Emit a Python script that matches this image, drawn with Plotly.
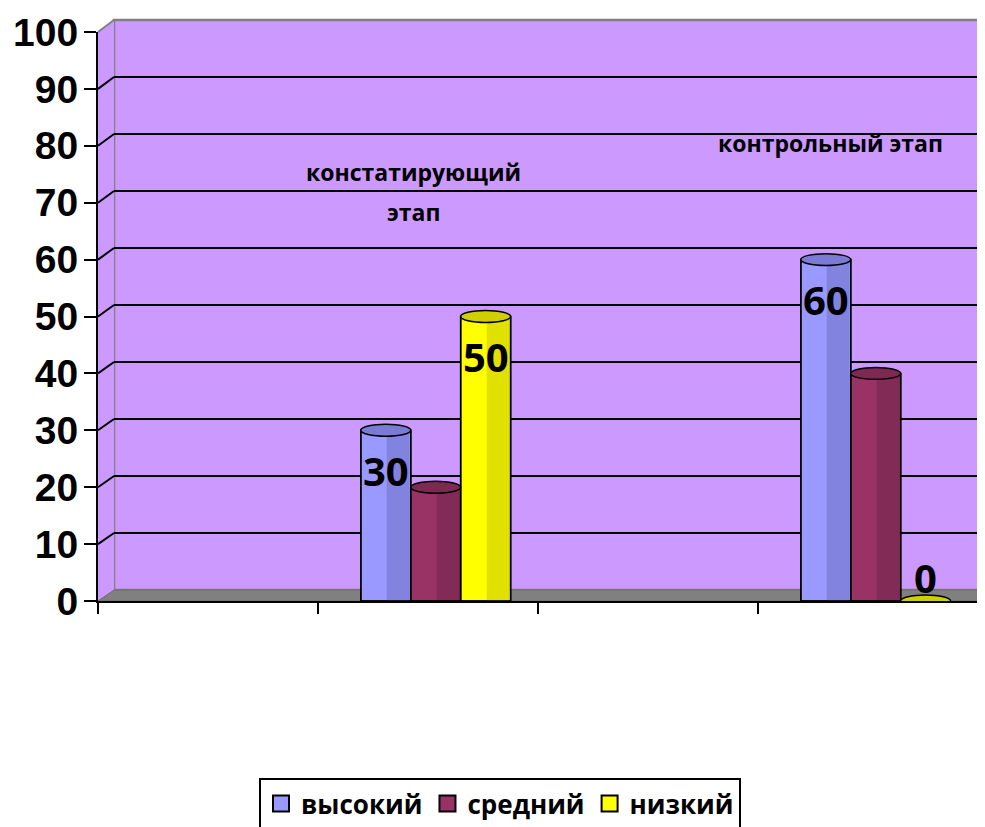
import plotly.graph_objects as go

# ---- data ----
stages = ["констатирующий этап", "контрольный этап"]
stage_slots = [1, 3]          # category slot index on the 4-slot axis
n_slots = 4
series_names = ["высокий", "средний", "низкий"]
high = [30, 60]
mid = [20, 40]
low = [50, 0]
series_values = [high, mid, low]
label_series = [True, False, True]   # which series show data labels
y_ticks = list(range(0, 101, 10))

# ---- styles ----
colors = ["#9999FF", "#993366", "#FFFF00"]
dark = ["#6f6fc4", "#6e2449", "#c8c800"]
top_col = ["#7b7bd6", "#7d2a52", "#d0d000"]
wall_col = "#CC99FF"
FONT = "Open Sans"
TICK_FONT = "Liberation Sans"
W, H = 985, 827
OFF = 8   # page body margin in the browser; positions below are screen pixels

# geometry (screen pixels) -> paper fractions
def px(x):
    return (x - OFF) / W
def py(y):
    return 1 - (y - OFF) / H

bx0, bx1, by0, by1 = 98, 978, 601, 32      # bar (front) plot area
wx0, wx1, wy0, wy1 = 114, 985, 590, 20     # back wall area

fig = go.Figure()

bw = 0.227
shift = 0.035
for i, (name, vals) in enumerate(zip(series_names, series_values)):
    off = shift + (i - 1.5) * bw
    fig.add_trace(go.Bar(
        x=stage_slots, y=vals, name=name, width=bw, offset=off,
        marker=dict(color=colors[i], line=dict(color="black", width=1.5)),
        xaxis="x2", yaxis="y2", hoverinfo="skip", showlegend=False))
    # cylinder shading on right side
    fig.add_trace(go.Bar(
        x=stage_slots, y=vals, width=bw * 0.45, offset=off + bw * 0.52,
        marker=dict(color=dark[i], opacity=0.55, line=dict(width=0)),
        xaxis="x2", yaxis="y2", showlegend=False, hoverinfo="skip"))
    fig.add_trace(go.Bar(
        x=stage_slots, y=vals, width=bw, offset=off,
        marker=dict(color="rgba(0,0,0,0)", line=dict(color="black", width=1.5)),
        xaxis="x2", yaxis="y2", showlegend=False, hoverinfo="skip"))

# legend entries (square swatches with black border)
for i, name in enumerate(series_names):
    fig.add_trace(go.Scatter(
        x=[None], y=[None], mode="markers", name=name,
        marker=dict(symbol="square", size=16, color=colors[i], line=dict(color="black", width=2)),
        xaxis="x2", yaxis="y2", hoverinfo="skip"))

# dummy trace so the wall subplot is created
fig.add_trace(go.Scatter(x=[0], y=[0], mode="markers", marker=dict(opacity=0),
                         xaxis="x", yaxis="y", showlegend=False, hoverinfo="skip"))

fig.update_layout(barmode="overlay")

shapes = []
# back wall
shapes.append(dict(type="rect", xref="x domain", yref="y domain", x0=0, x1=1, y0=0, y1=1,
                   fillcolor=wall_col, line=dict(color="#808080", width=2.5), layer="below"))
# side wall
shapes.append(dict(type="path", xref="paper", yref="paper",
                   path=f"M{px(bx0)},{py(by0)} L{px(wx0)},{py(wy0)} L{px(wx0)},{py(wy1)} L{px(bx0)},{py(by1)} Z",
                   fillcolor=wall_col, line=dict(width=0), layer="below"))
# floor
shapes.append(dict(type="path", xref="paper", yref="paper",
                   path=f"M{px(bx0)},{py(by0)} L{px(wx0)},{py(wy0)} L{px(wx1)},{py(wy0)} L{px(bx1 + 7)},{py(by0 - 7)} L{px(bx1)},{py(by0)} Z",
                   fillcolor="#808080", line=dict(color="#6a6a6a", width=1), layer="below"))
# side-wall gridline connectors
for v in y_ticks[1:]:
    ym = py(by0) + v / 100 * (py(by1) - py(by0))
    yw = py(wy0) + v / 100 * (py(wy1) - py(wy0))
    shapes.append(dict(type="line", xref="paper", yref="paper",
                       x0=px(bx0), y0=ym, x1=px(wx0), y1=yw,
                       line=dict(color="#808080" if v == 100 else "black", width=2), layer="below"))
# right end of floor edge
shapes.append(dict(type="line", xref="paper", yref="paper",
                   x0=px(bx1), y0=py(by0), x1=px(wx1), y1=py(by0 - 9),
                   line=dict(color="black", width=2)))
# cylinder tops
for i, vals in enumerate(series_values):
    off = shift + (i - 1.5) * bw
    for s, v in zip(stage_slots, vals):
        shapes.append(dict(type="circle", xref="x2", yref="y2",
                           x0=s + off, x1=s + off + bw, y0=v - 1.05, y1=v + 1.05,
                           fillcolor=top_col[i], line=dict(color="black", width=1.5),
                           layer="above"))

annotations = []
# data labels
for i, vals in enumerate(series_values):
    if not label_series[i]:
        continue
    off = shift + (i - 1.5) * bw
    for s, v in zip(stage_slots, vals):
        annotations.append(dict(x=s + off + bw / 2, y=v, xref="x2", yref="y2",
                                text=str(v), showarrow=False,
                                xanchor="center", yanchor="middle",
                                yshift=-40 if v > 0 else 24,
                                font=dict(family=FONT, size=40, color="black", weight="bold")))
# stage titles
title_font = dict(family=FONT, size=23, color="black", weight="bold")
annotations.append(dict(x=px(413), y=py(172), xref="paper", yref="paper",
                        xanchor="center", yanchor="middle",
                        text=stages[0].split(" ")[0], showarrow=False, font=title_font))
annotations.append(dict(x=px(413), y=py(212), xref="paper", yref="paper",
                        xanchor="center", yanchor="middle",
                        text=stages[0].split(" ")[1], showarrow=False, font=title_font))
annotations.append(dict(x=px(830), y=py(143), xref="paper", yref="paper",
                        xanchor="center", yanchor="middle",
                        text=stages[1], showarrow=False, font=title_font))

fig.update_layout(
    width=W, height=H,
    margin=dict(l=0, r=0, t=0, b=0, autoexpand=False),
    paper_bgcolor="white", plot_bgcolor="rgba(0,0,0,0)",
    showlegend=True,
    legend=dict(orientation="h", x=px(500), xanchor="center", y=py(778), yanchor="top",
                bordercolor="black", borderwidth=2, bgcolor="white",
                font=dict(family=FONT, size=26, color="black", weight="bold"),
                itemsizing="trace", traceorder="normal"),
    xaxis=dict(domain=[px(wx0), min(1, px(wx1))], anchor="y", range=[-0.5, n_slots - 0.5],
               automargin=False,
               showgrid=False, showticklabels=False, zeroline=False, showline=False, ticks=""),
    yaxis=dict(domain=[py(wy0), py(wy1)], anchor="x", range=[0, 100], automargin=False,
               tickvals=y_ticks[1:-1], showgrid=True, gridcolor="black", gridwidth=2,
               showticklabels=False, zeroline=False, showline=False, ticks=""),
    xaxis2=dict(domain=[px(bx0), px(bx1)], anchor="y2", range=[-0.5, n_slots - 0.5],
                automargin=False,
                tickvals=[k - 0.5 for k in range(n_slots + 1)], ticktext=[""] * (n_slots + 1),
                ticks="outside", ticklen=11, tickwidth=2, tickcolor="black",
                showgrid=False, zeroline=False, showline=True, linecolor="black", linewidth=2),
    yaxis2=dict(domain=[py(by0), py(by1)], anchor="x2", range=[0, 100], automargin=False,
                tickvals=y_ticks, ticks="outside", ticklen=12, tickwidth=2, tickcolor="black",
                showgrid=False, zeroline=False, showline=True, linecolor="black", linewidth=2,
                ticklabelstandoff=-2, ticklabeloverflow="allow",
                tickfont=dict(family=TICK_FONT, size=39, color="black", weight="bold")),
    shapes=shapes,
    annotations=annotations,
)

fig.write_html("out.html")
